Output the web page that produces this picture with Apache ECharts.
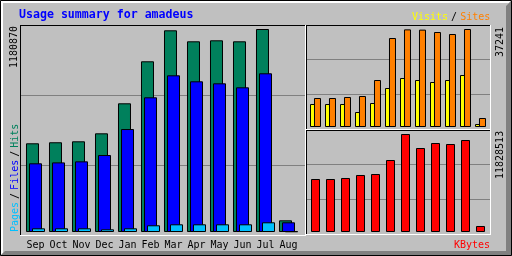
<!DOCTYPE html>
<html>
<head>
  <meta charset="utf-8">
  <title>Usage summary for amadeus</title>
  <script src="https://cdn.jsdelivr.net/npm/echarts@6/dist/echarts.min.js"></script>
</head>
<body style="margin:0;background:#c0c0c0;">
  <div id="main" style="width:512px;height:256px;"></div>
  <script type="text/javascript">
    // monthly totals
    var months = ['Sep', 'Oct', 'Nov', 'Dec', 'Jan', 'Feb', 'Mar', 'Apr', 'May', 'Jun', 'Jul', 'Aug'];
    var hits = [516000, 522000, 527600, 574000, 748600, 993000, 1173300, 1109300, 1115100, 1109300, 1180870, 68000];
    var files = [399600, 405000, 411000, 448000, 599000, 783500, 911500, 876600, 865000, 841700, 923200, 56400];
    var pages = [21500, 21500, 21500, 15700, 21500, 39000, 44800, 44800, 44800, 44800, 56400, 4000];
    var visits = [8740, 8740, 8740, 5700, 9120, 14820, 18620, 17860, 17100, 17860, 19760, 1140];
    var sites = [11020, 11020, 11400, 11780, 17860, 33820, 37100, 37000, 36100, 35340, 37241, 3420];
    var kbytes = [6397000, 6397000, 6518000, 6880000, 7000500, 8690000, 11828513, 10138700, 10742200, 10621500, 11104300, 724200];

    var maxHits = Math.max.apply(null, hits);
    var maxSites = Math.max.apply(null, sites.concat(visits));
    var maxKB = Math.max.apply(null, kbytes);

    var mono = '"DejaVu Sans Mono", "Liberation Mono", monospace';
    var shadow = { textShadowColor: '#5a5a5a', textShadowOffsetX: 1, textShadowOffsetY: 1, textShadowBlur: 0 };

    function bar(data, color, idx, width, gap) {
      return {
        type: 'bar',
        xAxisIndex: idx,
        yAxisIndex: idx,
        data: data,
        barWidth: width,
        barGap: gap,
        animation: false,
        silent: true,
        itemStyle: { color: color, borderColor: '#000', borderWidth: 1 }
      };
    }

    function panelY(idx) {
      return {
        gridIndex: idx, type: 'value', min: 0, max: 3, interval: 1,
        axisLine: { show: false }, axisTick: { show: false }, axisLabel: { show: false },
        splitLine: { show: true, lineStyle: { color: '#808080', width: 1 } }
      };
    }

    function line(x1, y1, x2, y2, c) {
      return { type: 'line', z: 50, silent: true, shape: { x1: x1, y1: y1, x2: x2, y2: y2 }, style: { stroke: c, lineWidth: 1 } };
    }

    function txt(x, y, text, rich, rot, align) {
      return {
        type: 'text', z: 60, x: x, y: y, rotation: rot || 0, silent: true,
        style: {
          text: text, rich: rich, font: '10px ' + mono, fill: '#000',
          align: align || 'left', textAlign: align || 'left',
          verticalAlign: 'middle', textVerticalAlign: 'middle'
        }
      };
    }

    function rs(color) {
      return Object.assign({ fill: color, fontFamily: mono, fontSize: 10 }, shadow);
    }

    var myChart = echarts.init(document.getElementById('main'));

    var option = {
      backgroundColor: '#c0c0c0',
      animation: false,
      grid: [
        { left: 24, top: 29, width: 276, height: 203 },   // hits/files/pages bars
        { left: 308, top: 29, width: 180, height: 98 },   // visits/sites bars
        { left: 308, top: 134, width: 180, height: 98 },  // kbytes bars
        { left: 20, top: 25, width: 285, height: 210 },   // panel gridlines
        { left: 306, top: 25, width: 184, height: 104 },
        { left: 306, top: 130, width: 184, height: 104 }
      ],
      xAxis: [
        {
          gridIndex: 0, type: 'category', data: months,
          axisLine: { show: false }, axisTick: { show: false },
          axisLabel: { interval: 0, margin: 8, color: '#000', fontFamily: mono, fontSize: 10 }
        },
        { gridIndex: 1, type: 'category', data: months, show: false },
        { gridIndex: 2, type: 'category', data: months, show: false },
        { gridIndex: 3, type: 'value', min: 0, max: 1, show: false },
        { gridIndex: 4, type: 'value', min: 0, max: 1, show: false },
        { gridIndex: 5, type: 'value', min: 0, max: 1, show: false }
      ],
      yAxis: [
        { gridIndex: 0, type: 'value', min: 0, max: maxHits, show: false },
        { gridIndex: 1, type: 'value', min: 0, max: maxSites, show: false },
        { gridIndex: 2, type: 'value', min: 0, max: maxKB, show: false },
        panelY(3), panelY(4), panelY(5)
      ],
      series: [
        bar(hits, '#00805c', 0, 13, '-76.92%'),
        bar(files, '#0000ff', 0, 13, '-76.92%'),
        bar(pages, '#00c0ff', 0, 13, '-76.92%'),
        bar(visits, '#ffff00', 1, 7, '-42.86%'),
        bar(sites, '#ff8000', 1, 7, '-42.86%'),
        bar(kbytes, '#ff0000', 2, 9, '0%')
      ],
      graphic: [
        // outer bevel
        { type: 'rect', z: 40, silent: true, shape: { x: 0.5, y: 0.5, width: 511, height: 255 }, style: { fill: null, stroke: '#000', lineWidth: 1 } },
        { type: 'polygon', z: 41, silent: true, shape: { points: [[1, 1], [511, 1], [509, 3], [3, 3], [3, 253], [1, 255]] }, style: { fill: '#ffffff' } },
        { type: 'polygon', z: 41, silent: true, shape: { points: [[511, 1], [511, 255], [1, 255], [5, 251], [506, 251], [506, 6]] }, style: { fill: '#808080' } },

        // panel frames
        line(20, 25.5, 305, 25.5, '#000'), line(20.5, 25, 20.5, 236, '#000'),
        line(20, 235.5, 306, 235.5, '#fff'), line(305.5, 25, 305.5, 236, '#fff'),
        line(306, 25.5, 491, 25.5, '#000'), line(306.5, 25, 306.5, 130, '#000'),
        line(306, 129.5, 491, 129.5, '#fff'), line(490.5, 25, 490.5, 130, '#fff'),
        line(306, 130.5, 491, 130.5, '#000'), line(306.5, 130, 306.5, 235, '#000'),
        line(306, 234.5, 491, 234.5, '#fff'), line(490.5, 130, 490.5, 235, '#fff'),

        // title
        {
          type: 'text', z: 60, x: 19, y: 15, silent: true,
          style: {
            text: 'Usage summary for amadeus', font: 'bold 11.6px ' + mono, fill: '#0000ff',
            align: 'left', textAlign: 'left', verticalAlign: 'middle', textVerticalAlign: 'middle'
          }
        },

        // legends
        txt(15, 232, '{p|Pages}{s|/}{f|Files}{s|/}{h|Hits}', {
          p: rs('#00c0ff'), f: rs('#0000ff'), h: rs('#00805c'),
          s: Object.assign(rs('#000'), { padding: [0, 3] })
        }, Math.PI / 2),
        txt(412, 17, '{v|Visits}{s|/}{t|Sites}', {
          v: rs('#ffff00'), t: rs('#ff8000'),
          s: Object.assign(rs('#000'), { padding: [0, 3] })
        }),
        txt(490, 245, '{k|KBytes}', { k: rs('#ff0000') }, 0, 'right'),

        // max value labels
        txt(14.5, 68, String(maxHits), null, Math.PI / 2),
        txt(500, 57, String(maxSites), null, Math.PI / 2),
        txt(500, 179, String(maxKB), null, Math.PI / 2)
      ]
    };

    myChart.setOption(option);
  </script>
</body>
</html>
